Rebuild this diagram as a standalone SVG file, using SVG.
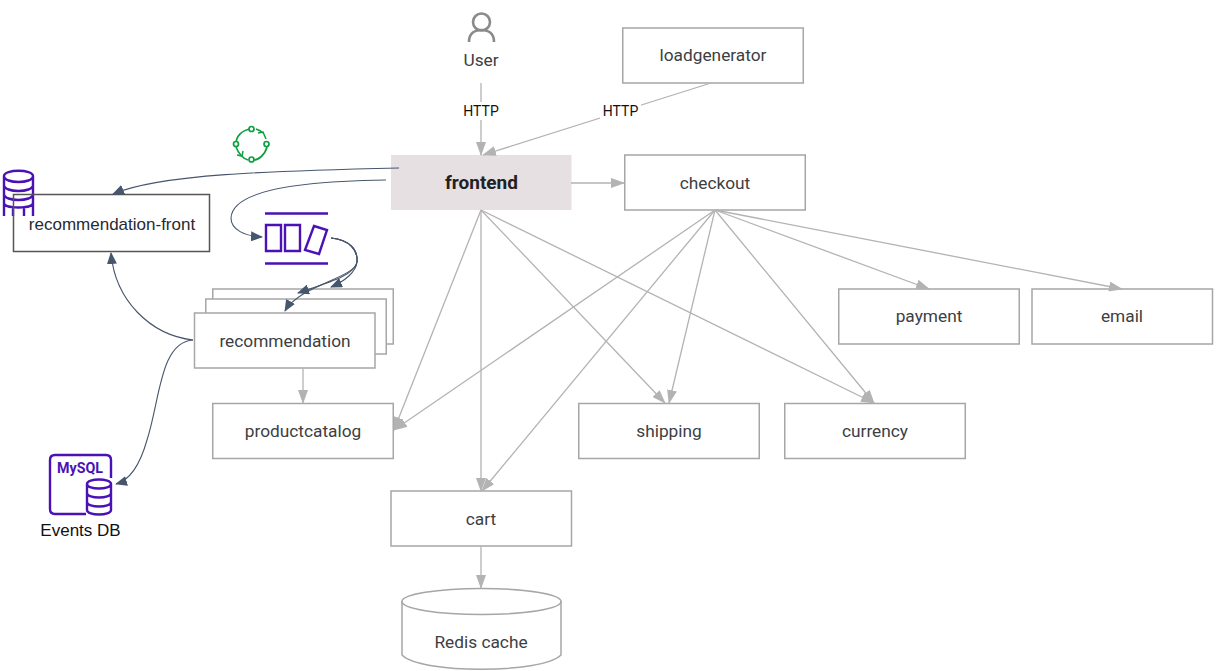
<svg xmlns="http://www.w3.org/2000/svg" width="1216" height="671" viewBox="0 0 1216 671">
<defs>
<marker id="g" viewBox="0 0 14 10" refX="13" refY="5" markerWidth="14" markerHeight="10" markerUnits="userSpaceOnUse" orient="auto"><path d="M0 0L14 5L0 10Z" fill="#b3b3b3"/></marker>
<marker id="d" viewBox="0 0 12 10" refX="11" refY="5" markerWidth="12" markerHeight="10" markerUnits="userSpaceOnUse" orient="auto"><path d="M0 0L12 5L0 10Z" fill="#46566c"/></marker>
</defs>
<style>
text{font-family:Roboto,"Liberation Sans",sans-serif;text-anchor:middle}
.n{fill:#fff;stroke:#a6a6a6;stroke-width:1.5}
.l{font-size:17.300px;fill:#3c4043}
.e{fill:none;stroke:#b3b3b3;stroke-width:1.3;marker-end:url(#g)}
.c{fill:none;stroke:#46566c;stroke-width:1.1;marker-end:url(#d)}
.p{fill:none;stroke:#4a12b5;stroke-width:2.4}
.h{font-size:14px;fill:#111}
</style>
<g id="frontend"><rect x="391" y="155" width="180.500" height="55" fill="#e6e0e2"/><text x="481.500" y="189" font-size="19" font-weight="700" fill="#202124">frontend</text></g>
<g id="user"><circle cx="481.500" cy="22" r="8.500" fill="none" stroke="#8a8a8a" stroke-width="2.600"/><path d="M469 42C469 33 475 30 481.500 30C488 30 494 33 494 42" fill="none" stroke="#8a8a8a" stroke-width="2.600"/><text class="l" x="481" y="66">User</text></g>
<g id="loadgenerator"><rect class="n" x="622.750" y="28" width="180.500" height="55"/><text class="l" x="713" y="61">loadgenerator</text></g>
<g id="checkout"><rect class="n" x="624.750" y="155" width="180.500" height="55"/><text class="l" x="715" y="189">checkout</text></g>
<g id="payment"><rect class="n" x="838.750" y="289" width="180.500" height="55"/><text class="l" x="929" y="322">payment</text></g>
<g id="email"><rect class="n" x="1032" y="289" width="180.500" height="55"/><text class="l" x="1122" y="322">email</text></g>
<g id="shipping"><rect class="n" x="578.750" y="403.500" width="180.500" height="55"/><text class="l" x="669" y="437">shipping</text></g>
<g id="currency"><rect class="n" x="784.750" y="403.500" width="180.500" height="55"/><text class="l" x="875" y="437">currency</text></g>
<g id="productcatalog"><rect class="n" x="212.750" y="403.500" width="180.500" height="55"/><text class="l" x="303" y="437">productcatalog</text></g>
<g id="cart"><rect class="n" x="391" y="491" width="180.500" height="55"/><text class="l" x="481" y="525">cart</text></g>
<g id="redis"><path class="n" d="M402 601V655C420 674 542 674 561 655V601" stroke-width="1.300"/><ellipse class="n" cx="481.500" cy="601.500" rx="79.500" ry="13" stroke-width="1.300"/><text class="l" x="481" y="648">Redis cache</text></g>
<g id="recommendation"><rect class="n" x="212.750" y="289" width="180.500" height="55"/><rect class="n" x="205.750" y="299" width="180.500" height="55"/><rect class="n" x="194.500" y="313" width="180.500" height="55"/><text class="l" x="285" y="347">recommendation</text></g>
<g id="recommendation-front"><path class="p" d="M4 176C4 169 33 169 33 176V216M4 176V216M4 176C4 184 33 184 33 176M4 185C4 193 33 193 33 185M4 194C4 202 33 202 33 194M4 203C4 209 33 209 33 203M13 216V206M24 216V206"/><rect x="13.500" y="194.500" width="196" height="57" fill="none" stroke="#555" stroke-width="1.500"/><text x="112" y="230" font-size="17" fill="#262b33" style="font-family:'Liberation Sans',sans-serif">recommendation-front</text></g>
<g id="queue"><path class="p" d="M265 213.500H328M265 263.500H328M266 225H281V251H266ZM285 225H300V251H285ZM314 226L327 230L319 254L305 250Z"/></g>
<g id="cycle"><path d="M236 144C236 136 242 130 251 129M256 129C259 130 261 131 263 133M267 147C265 155 258 160 254 160M248 160C241 158 238 152 236 147" fill="none" stroke="#0da03e" stroke-width="1.700"/><g fill="#fff" stroke="#0da03e" stroke-width="1.700"><circle cx="251.500" cy="129" r="2.500"/><circle cx="266.500" cy="144" r="2.500"/><circle cx="251.500" cy="159.500" r="2.500"/><circle cx="236" cy="144" r="2.500"/></g><path d="M266 139L263 132L258 133M237 155L242 156L243 151" fill="none" stroke="#0da03e" stroke-width="1.500"/></g>
<g id="events-db"><path class="p" d="M86 514H55Q50 514 50 509V460Q50 455 55 455H106Q111 455 111 460V478"/><text x="80" y="473" font-size="15" font-weight="700" fill="#4a12b5" textLength="46" lengthAdjust="spacingAndGlyphs">MySQL</text><path class="p" d="M87 484C87 478 111 478 111 484V510C111 516 87 516 87 510ZM87 484C87 490 111 490 111 484M87 493C87 499 111 499 111 493M87 502C87 508 111 508 111 502"/><text x="80.500" y="536" font-size="17" fill="#111" style="font-family:'Liberation Sans',sans-serif">Events DB</text></g>
<g id="connectors">
<path class="e" d="M481 83V155"/>
<path class="e" d="M711 83L483 155"/>
<path class="e" d="M571 183H624"/>
<path class="e" d="M481 210L394 430"/>
<path class="e" d="M481 210V491"/>
<path class="e" d="M481 210L665 403"/>
<path class="e" d="M481 210L874 403"/>
<path class="e" d="M715 210L394 430"/>
<path class="e" d="M715 210L482 491"/>
<path class="e" d="M715 210L669 403"/>
<path class="e" d="M715 210L874 403"/>
<path class="e" d="M715 210L929 289"/>
<path class="e" d="M715 210L1122 289"/>
<path class="e" d="M303 368V403"/>
<path class="e" d="M481 546V588"/>
<path class="c" d="M399 168C270 171 160 174 113 194"/>
<path class="c" d="M386 180C300 181 232 190 231 218C231 230 245 236 262 237"/>
<path class="c" d="M331 238C350 240 358 250 357 262C355 275 330 282 298 293"/>
<path class="c" d="M331 238C350 240 358 250 357 262C356 272 345 281 331 287"/>
<path class="c" d="M331 238C350 240 358 250 357 262C355 278 300 285 285 311"/>
<path class="c" d="M193 340C150 335 115 300 111 253"/>
<path class="c" d="M193 340C160 342 160 400 147 440C140 465 130 480 116 484"/>
</g>
<g id="http1"><rect x="464" y="102" width="34" height="18" fill="#fff"/><text class="h" x="481" y="116">HTTP</text></g>
<g id="http2"><rect x="600" y="102" width="41" height="18" fill="#fff"/><text class="h" x="620.500" y="116">HTTP</text></g>
</svg>
